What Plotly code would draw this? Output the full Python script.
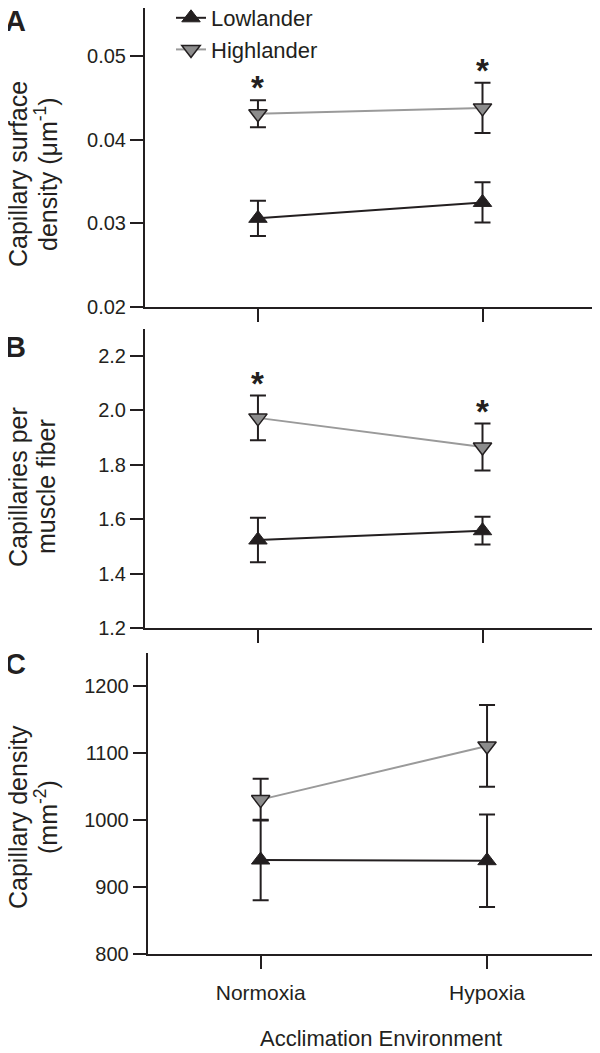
import plotly.graph_objects as go

# ---------------- data ----------------
conditions = ["Normoxia", "Hypoxia"]
cond_pos = [0, 1]

# Panel A: capillary surface density (um^-1)
a_low_mean = [0.0306, 0.0325]
a_low_err = [0.0021, 0.0024]
a_high_mean = [0.0431, 0.0438]
a_high_err = [0.0016, 0.0030]
a_sig = [True, True]

# Panel B: capillaries per muscle fiber
b_low_mean = [1.524, 1.558]
b_low_err = [0.082, 0.051]
b_high_mean = [1.972, 1.865]
b_high_err = [0.082, 0.086]
b_sig = [True, True]

# Panel C: capillary density (mm^-2)
c_low_mean = [940, 939]
c_low_err = [60, 69]
c_high_mean = [1030, 1110]
c_high_err = [31, 61]
c_sig = [False, False]

a_ticks = [0.02, 0.03, 0.04, 0.05]
b_ticks = [1.2, 1.4, 1.6, 1.8, 2.0, 2.2]
c_ticks = [800, 900, 1000, 1100, 1200]

# ---------------- style ----------------
FONT = "Liberation Sans, Arial, sans-serif"
INK = "#231f20"
HI_LINE = "#9a9a9a"
HI_FILL = "#8c8c8c"

PLOT_H = 946.0
def px_x(p):
    return (p - 145) / 455.0
def px_y(p):
    return (954 - p) / PLOT_H

panels = [
    dict(low=a_low_mean, low_e=a_low_err, high=a_high_mean, high_e=a_high_err, sig=a_sig, ax=("x", "y")),
    dict(low=b_low_mean, low_e=b_low_err, high=b_high_mean, high_e=b_high_err, sig=b_sig, ax=("x2", "y2")),
    dict(low=c_low_mean, low_e=c_low_err, high=c_high_mean, high_e=c_high_err, sig=c_sig, ax=("x3", "y3")),
]

fig = go.Figure()
annotations = []
for i, p in enumerate(panels):
    xa, ya = p["ax"]
    fig.add_trace(go.Scatter(
        x=cond_pos, y=p["low"], xaxis=xa, yaxis=ya, name="Lowlander",
        mode="lines+markers", showlegend=(i == 0), legendgroup="low",
        line=dict(color=INK, width=2),
        marker=dict(symbol="triangle-up", size=16, color=INK, line=dict(color=INK, width=1)),
        error_y=dict(type="data", array=p["low_e"], color=INK, thickness=2, width=8),
    ))
    fig.add_trace(go.Scatter(
        x=cond_pos, y=p["high"], xaxis=xa, yaxis=ya, name="Highlander",
        mode="lines+markers", showlegend=(i == 0), legendgroup="high",
        line=dict(color=HI_LINE, width=2),
        marker=dict(symbol="triangle-down", size=16, color=HI_FILL, line=dict(color=INK, width=1.5)),
        error_y=dict(type="data", array=p["high_e"], color=INK, thickness=2, width=8),
    ))
    for xv, m, e, s in zip(cond_pos, p["high"], p["high_e"], p["sig"]):
        if s:
            annotations.append(dict(
                x=xv, y=m + e, xref=xa, yref=ya, text="<b>*</b>", showarrow=False,
                yanchor="bottom", yshift=-8, font=dict(size=33, color=INK, family=FONT),
            ))

def ytitle(line1, line2, ycen):
    return [
        dict(x=px_x(18), y=ycen, xref="paper", yref="paper", text=line1, textangle=-90,
             showarrow=False, xanchor="center", yanchor="middle",
             font=dict(size=25, color=INK, family=FONT)),
        dict(x=px_x(46), y=ycen, xref="paper", yref="paper", text=line2, textangle=-90,
             showarrow=False, xanchor="center", yanchor="middle",
             font=dict(size=25, color=INK, family=FONT)),
    ]

annotations += ytitle("Capillary surface", "density (μm<sup>-1</sup>)", px_y(174))
annotations += ytitle("Capillaries per", "muscle fiber", px_y(487))
annotations += ytitle("Capillary density", "(mm<sup>-2</sup>)", px_y(817))

for letter, ypx in [("A", 21), ("B", 347), ("C", 664)]:
    annotations.append(dict(x=px_x(15), y=px_y(ypx), xref="paper", yref="paper",
                            text="<b>%s</b>" % letter, showarrow=False, xanchor="center", yanchor="middle",
                            font=dict(size=29, color=INK, family=FONT)))

annotations.append(dict(x=px_x(381), y=px_y(1038), xref="paper", yref="paper",
                        text="Acclimation Environment", showarrow=False, xanchor="center", yanchor="middle",
                        font=dict(size=22, color=INK, family=FONT)))

common_x = dict(tickvals=cond_pos, ticks="outside", ticklen=13, tickwidth=2, tickcolor=INK,
                showline=True, linewidth=2, linecolor=INK, showgrid=False, zeroline=False,
                fixedrange=True)
common_y = dict(ticks="outside", ticklen=13, tickwidth=2, tickcolor=INK,
                showline=True, linewidth=2, linecolor=INK, showgrid=False, zeroline=False,
                tickfont=dict(size=20, color=INK, family=FONT), ticklabelstandoff=0)

fig.update_layout(
    width=600, height=1053,
    margin=dict(l=137, r=8, t=0, b=107, autoexpand=False),
    paper_bgcolor="white", plot_bgcolor="white",
    font=dict(family=FONT, color=INK),
    showlegend=True,
    legend=dict(x=px_x(171), y=1.0 + 11 / PLOT_H, xanchor="left", yanchor="top",
                font=dict(size=22, color=INK, family=FONT), bgcolor="rgba(0,0,0,0)",
                tracegroupgap=0, itemwidth=30),
    xaxis=dict(domain=[0, 450 / 455], range=[-0.503, 1.501], anchor="y", showticklabels=False, **common_x),
    yaxis=dict(domain=[px_y(307), 1.0], range=[0.02, 0.05574], anchor="x", tickvals=a_ticks,
               ticktext=["%.2f" % v for v in a_ticks], **common_y),
    xaxis2=dict(domain=[0, 450 / 455], range=[-0.503, 1.501], anchor="y2", showticklabels=False, **common_x),
    yaxis2=dict(domain=[px_y(628.3), px_y(329.3)], range=[1.2, 2.297], anchor="x2", tickvals=b_ticks,
                ticktext=["%.1f" % v for v in b_ticks], **common_y),
    xaxis3=dict(domain=[px_x(147.7), 1.0], range=[-0.499, 1.499], anchor="y3", ticktext=conditions,
                tickfont=dict(size=21, color=INK, family=FONT), ticklabelstandoff=6, **common_x),
    yaxis3=dict(domain=[0.0, px_y(653.3)], range=[800, 1248], anchor="x3", tickvals=c_ticks,
                ticktext=[str(v) for v in c_ticks], **common_y),
    annotations=annotations,
)

fig.write_html("out.html")
